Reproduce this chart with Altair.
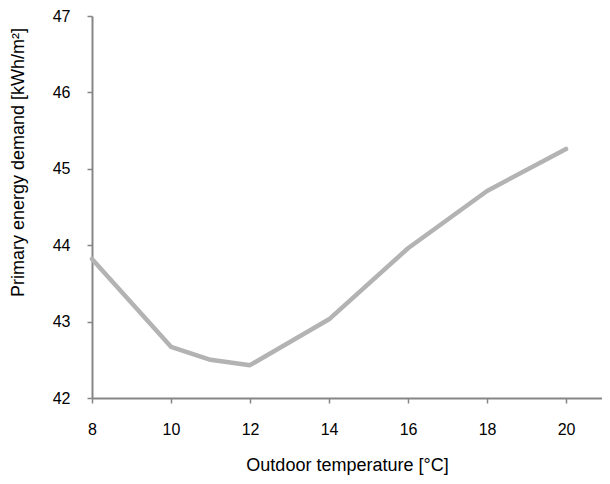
import altair as alt
import pandas as pd

temperature = [8, 10, 11, 12, 14, 16, 18, 20]
demand = [43.82, 42.67, 42.50, 42.43, 43.03, 43.96, 44.71, 45.26]
x_ticks = [8, 10, 12, 14, 16, 18, 20]
y_ticks = [42, 43, 44, 45, 46, 47]

df = pd.DataFrame({"t": temperature, "d": demand})

FONT = "Liberation Sans"
AXIS_COLOR = "#868686"

chart = (
    alt.Chart(df)
    .mark_line(color="#b3b3b3", strokeWidth=4.5, strokeCap="round", strokeJoin="round")
    .encode(
        x=alt.X(
            "t:Q",
            scale=alt.Scale(domain=[8, 20.91], nice=False, zero=False),
            axis=alt.Axis(
                values=x_ticks,
                title="Outdoor temperature [°C]",
                grid=False,
                labelFlush=False,
                domainColor=AXIS_COLOR,
                domainWidth=2,
                tickColor=AXIS_COLOR,
                tickWidth=1.5,
                tickSize=5,
                labelFont=FONT,
                labelFontSize=16,
                labelColor="#000000",
                labelPadding=18,
                titleFont=FONT,
                titleFontSize=18,
                titleFontWeight="normal",
                titleColor="#000000",
                titleBaseline="middle",
                titleY=67,
            ),
        ),
        y=alt.Y(
            "d:Q",
            scale=alt.Scale(domain=[42, 47], nice=False, zero=False),
            axis=alt.Axis(
                values=y_ticks,
                title="Primary energy demand [kWh/m²]",
                grid=False,
                labelFlush=False,
                domainColor=AXIS_COLOR,
                domainWidth=2,
                tickColor=AXIS_COLOR,
                tickWidth=1.5,
                tickSize=5,
                labelFont=FONT,
                labelFontSize=16,
                labelColor="#000000",
                labelPadding=17,
                titleFont=FONT,
                titleFontSize=18,
                titleFontWeight="normal",
                titleColor="#000000",
                titleBaseline="middle",
                titleAlign="center",
                titleAngle=270,
                titleX=-74,
                titleY=146,
            ),
        ),
    )
    .properties(
        width=510,
        height=382,
        autosize=alt.AutoSizeParams(type="none"),
        padding={"left": 84, "top": 8, "right": 0, "bottom": 78},
    )
    .configure_view(stroke=None)
)

chart.save("out.html", embed_options={"renderer": "svg", "actions": False})
